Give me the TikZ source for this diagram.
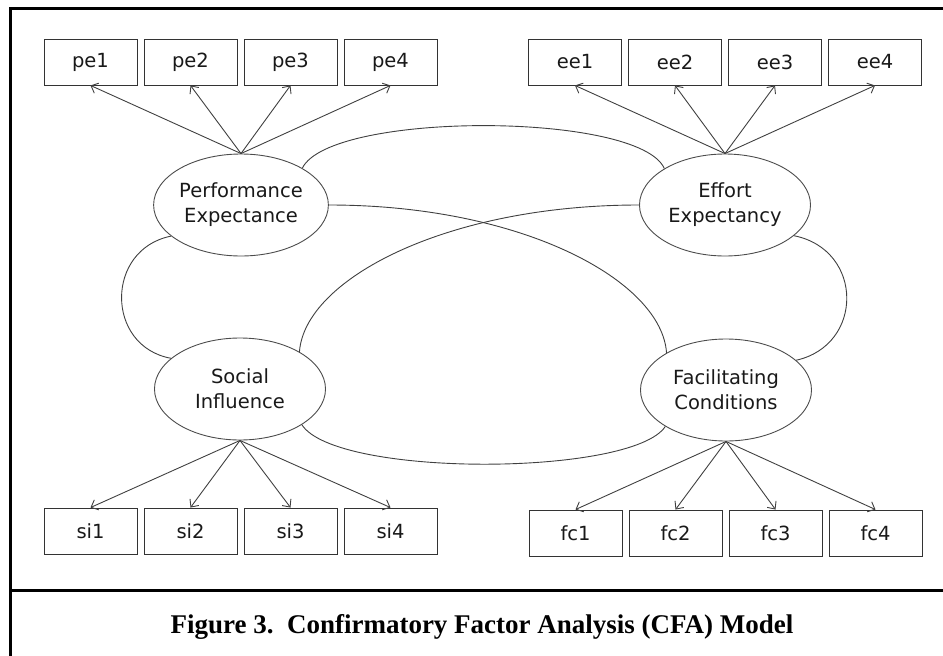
\documentclass[tikz,border=0pt]{standalone}
\usepackage{fontspec}
\setmainfont{Liberation Serif}
\newfontfamily\boxfont{DejaVu Sans}
\usetikzlibrary{shapes.geometric,arrows.meta}

\begin{document}
\begin{tikzpicture}[x=1pt,y=-1pt,
  obs/.style={draw=black!80,line width=0.9pt,minimum width=93pt,minimum height=46pt,
    inner sep=0pt,font=\boxfont\fontsize{19.5}{23}\selectfont,text=black!90},
  lat/.style={draw=black!70,line width=0.9pt,ellipse,minimum width=171pt,minimum height=102pt,
    inner sep=0pt,align=center,font=\boxfont\fontsize{19.5}{25}\selectfont,text=black!90},
  load/.style={-{Straight Barb[length=6pt,width=11pt]},draw=black!75,line width=0.9pt},
  cov/.style={draw=black!75,line width=0.9pt}]
\useasboundingbox (0,0) rectangle (943,656);

% ramka
\draw [line width=3pt] (943,8)--(10,8)--(10,656);
\draw [line width=3pt] (10,590)--(943,590);

% latent factors
\node [lat] (pe) at (241,205) {Performance\\Expectance};
\node [lat] (ee) at (725,205) {Effort\\Expectancy};
\node [lat] (si) at (240,389) {Social\\Influence};
\node [lat] (fc) at (726,390) {Facilitating\\Conditions};

% indicators
\foreach \i in {1,...,4} {
  \node [obs] (pe\i) at (90.5+100*\i-100,62) {pe\i};
  \node [obs] (ee\i) at (575+100*\i-100,62) {ee\i};
  \node [obs] (si\i) at (90.5+100*\i-100,531) {si\i};
  \node [obs] (fc\i) at (575.5+100*\i-100,533) {fc\i};
  \draw [load] (pe.north)--(pe\i.south);
  \draw [load] (ee.north)--(ee\i.south);
  \draw [load] (si.south)--(si\i.north);
  \draw [load] (fc.south)--(fc\i.north);
}

% covariances
\draw [cov] (pe.31) .. controls +(28,-57) and +(-25,-57) .. (ee.149);
\draw [cov] (pe.east) .. controls +(194,0) and +(-5,-72) .. (fc.148);
\draw [cov] (ee.west) .. controls +(-194,0) and +(5,-72) .. (si.32);
\draw [cov] (pe.204) .. controls +(-66,13) and +(-66,-12) .. (si.156);
\draw [cov] (ee.336) .. controls +(70,14) and +(68,-15) .. (fc.23);
\draw [cov] (si.330) .. controls +(34,53) and +(-33,50) .. (fc.211);

% caption
\node [font=\bfseries\fontsize{27}{31}\selectfont] (cap) at (482,627)
  {Figure 3.\ \ Confirmatory Factor Analysis (CFA) Model};
\end{tikzpicture}
\end{document}
